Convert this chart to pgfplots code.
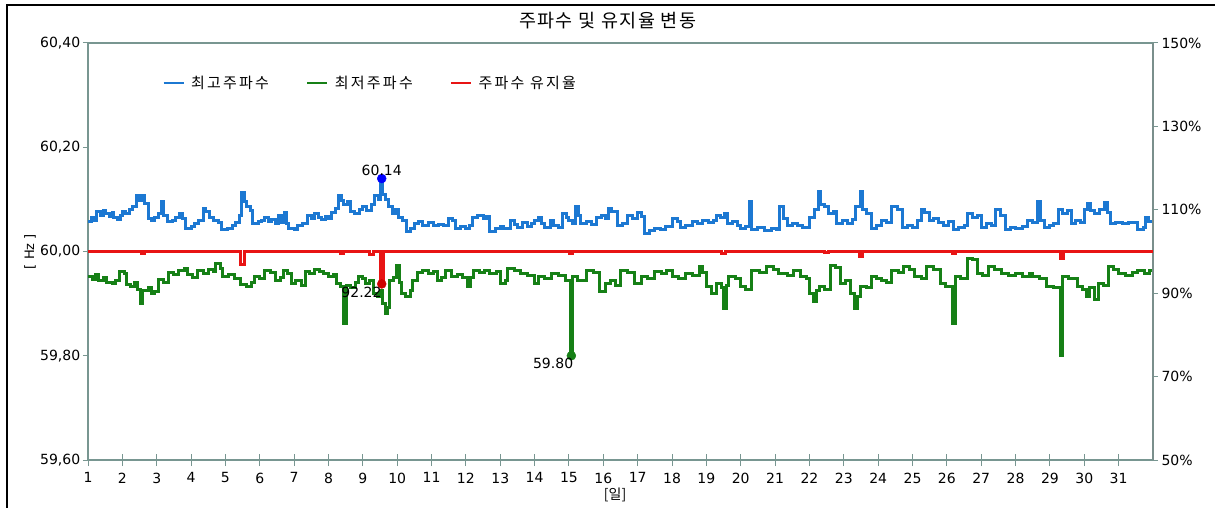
\documentclass[border=0pt]{standalone}
\usepackage{fontspec}
\usepackage{pgfplots}
\pgfplotsset{compat=1.18}
\setmainfont{DejaVu Sans}
\newfontfamily\krtitle[LetterSpace=8]{Noto Sans CJK KR}
\newfontfamily\krleg[LetterSpace=15]{Noto Sans CJK KR}
\newfontfamily\krlab{Noto Sans CJK KR}

\definecolor{hiblue}{RGB}{28,120,210}
\definecolor{logreen}{RGB}{22,128,22}
\definecolor{redline}{RGB}{232,20,20}
\definecolor{axiscol}{RGB}{120,150,145}

\pgfplotsset{
  /pgf/number format/assume math mode=true,
  every tick label/.append style={font=\fontsize{14bp}{16bp}\selectfont, text=black},
}

\begin{document}
\begin{tikzpicture}
\begin{axis}[
    scale only axis,
    width=1065bp, height=417bp,
    xmin=1, xmax=32,
    ymin=59.6, ymax=60.4,
    xtick={1,2,...,31},
    ytick={59.6,59.8,60.0,60.2,60.4},
    tick pos=left,
    xtick align=center,
    ytick align=outside,
    xtick style={/pgfplots/major tick length=12bp},
    ytick style={/pgfplots/major tick length=5bp},
    tick style={draw=axiscol, line width=1bp},
    axis line style={draw=axiscol, line width=1.3bp},
    yticklabel style={/pgf/number format/.cd, fixed, fixed zerofill, precision=2, use comma},
    xticklabel style={yshift=-7bp},
    title={\krtitle 주파수 및 유지율 변동},
    title style={at={(axis description cs:0.488,1.055)}, anchor=center, yshift=-6bp, font=\fontsize{18.5bp}{20bp}\selectfont},
    xlabel={\krlab [일]},
    xlabel style={at={(axis description cs:0.495,-0.084)}, anchor=center, font=\fontsize{14bp}{16bp}\selectfont},
    ylabel={[ Hz ]},
    ylabel style={at={(axis description cs:-0.0545,0.5)}, anchor=center, font=\fontsize{13bp}{15bp}\selectfont},
    legend columns=3,
    legend style={at={(axis description cs:0.0695,0.904)}, anchor=west,
      draw=none, fill=none, inner sep=0pt,
      font=\fontsize{15bp}{17bp}\krleg,
      nodes={inner sep=0pt},
      /tikz/every odd column/.append style={column sep=6bp},
      /tikz/every even column/.append style={column sep=37bp}},
    legend image code/.code={\draw[#1, line width=2.8bp] (0bp,0bp) -- (20bp,0bp);},
]
% max frequency
\addplot[const plot, hiblue, line width=3bp, mark=none] coordinates {
(1.00,60.057) (1.10,60.065) (1.18,60.060) (1.25,60.076) (1.35,60.070) (1.45,60.078)
(1.50,60.072) (1.62,60.068) (1.70,60.074) (1.75,60.066) (1.85,60.062) (1.95,60.070)
(2.00,60.076) (2.10,60.072) (2.20,60.080) (2.30,60.086) (2.40,60.108) (2.50,60.098)
(2.58,60.108) (2.65,60.092) (2.75,60.063) (2.85,60.060) (2.95,60.066) (3.05,60.072)
(3.15,60.095) (3.20,60.070) (3.30,60.057) (3.45,60.060) (3.55,60.066) (3.65,60.072)
(3.75,60.064) (3.85,60.045) (4.00,60.048) (4.10,60.054) (4.22,60.060) (4.35,60.083)
(4.42,60.076) (4.55,60.065) (4.65,60.060) (4.80,60.055) (4.90,60.042) (5.05,60.045)
(5.20,60.050) (5.30,60.056) (5.42,60.070) (5.48,60.114) (5.55,60.095) (5.62,60.086)
(5.72,60.078) (5.80,60.054) (5.95,60.058) (6.05,60.060) (6.15,60.066) (6.25,60.058)
(6.35,60.062) (6.45,60.054) (6.55,60.070) (6.62,60.056) (6.72,60.075) (6.78,60.054)
(6.85,60.045) (7.00,60.042) (7.10,60.050) (7.25,60.054) (7.40,60.070) (7.50,60.064)
(7.60,60.072) (7.70,60.066) (7.80,60.062) (7.90,60.068) (8.00,60.064) (8.10,60.074)
(8.20,60.083) (8.30,60.108) (8.38,60.098) (8.45,60.090) (8.55,60.096) (8.65,60.076)
(8.75,60.072) (8.90,60.080) (9.00,60.086) (9.10,60.078) (9.25,60.090) (9.35,60.108)
(9.45,60.100) (9.52,60.140) (9.58,60.110) (9.65,60.100) (9.75,60.086) (9.85,60.073)
(9.95,60.080) (10.05,60.066) (10.15,60.060) (10.28,60.038) (10.40,60.045) (10.50,60.054)
(10.62,60.058) (10.75,60.050) (10.90,60.056) (11.05,60.050) (11.20,60.052) (11.35,60.050)
(11.50,60.063) (11.62,60.060) (11.70,60.045) (11.85,60.048) (12.00,60.044) (12.10,60.050)
(12.20,60.066) (12.35,60.070) (12.50,60.064) (12.60,60.068) (12.70,60.038) (12.85,60.044)
(13.00,60.048) (13.10,60.044) (13.30,60.060) (13.40,60.052) (13.50,60.047) (13.65,60.056)
(13.80,60.048) (13.90,60.054) (14.00,60.060) (14.10,60.066) (14.20,60.054) (14.30,60.047)
(14.45,60.060) (14.55,60.050) (14.70,60.046) (14.80,60.073) (14.92,60.066) (15.00,60.060)
(15.10,60.054) (15.20,60.086) (15.28,60.070) (15.35,60.054) (15.50,60.058) (15.65,60.052)
(15.80,60.066) (15.95,60.070) (16.05,60.064) (16.15,60.083) (16.25,60.076) (16.40,60.050)
(16.55,60.054) (16.70,60.070) (16.85,60.064) (17.00,60.074) (17.10,60.068) (17.20,60.035)
(17.35,60.040) (17.50,60.044) (17.65,60.042) (17.80,60.048) (18.00,60.063) (18.15,60.058)
(18.25,60.047) (18.40,60.050) (18.60,60.057) (18.75,60.054) (18.90,60.060) (19.05,60.056)
(19.20,60.060) (19.30,60.070) (19.40,60.066) (19.52,60.072) (19.60,60.054) (19.75,60.058)
(19.90,60.050) (20.00,60.045) (20.15,60.048) (20.25,60.096) (20.30,60.042) (20.50,60.046)
(20.70,60.040) (20.90,60.044) (21.05,60.042) (21.12,60.086) (21.25,60.064) (21.35,60.050)
(21.50,60.054) (21.65,60.050) (21.80,60.047) (22.00,60.066) (22.15,60.080) (22.25,60.115)
(22.32,60.090) (22.45,60.086) (22.55,60.073) (22.70,60.076) (22.80,60.054) (22.95,60.060)
(23.10,60.054) (23.25,60.062) (23.35,60.086) (23.48,60.115) (23.55,60.080) (23.65,60.073)
(23.80,60.045) (23.95,60.050) (24.10,60.060) (24.25,60.056) (24.40,60.086) (24.55,60.080)
(24.70,60.047) (24.85,60.050) (25.00,60.046) (25.15,60.060) (25.25,60.080) (25.35,60.074)
(25.50,60.060) (25.62,60.064) (25.75,60.056) (25.90,60.050) (26.05,60.058) (26.20,60.042)
(26.35,60.046) (26.50,60.050) (26.60,60.073) (26.75,60.066) (26.90,60.070) (27.00,60.047)
(27.15,60.054) (27.30,60.050) (27.42,60.080) (27.55,60.070) (27.70,60.042) (27.85,60.046)
(28.00,60.044) (28.20,60.048) (28.35,60.060) (28.50,60.056) (28.65,60.096) (28.72,60.060)
(28.85,60.047) (29.00,60.050) (29.10,60.054) (29.25,60.080) (29.38,60.072) (29.50,60.078)
(29.62,60.054) (29.75,60.060) (29.90,60.056) (30.00,60.080) (30.08,60.092) (30.18,60.078)
(30.30,60.072) (30.45,60.080) (30.58,60.094) (30.68,60.074) (30.75,60.054) (30.90,60.056)
(31.10,60.054) (31.30,60.056) (31.55,60.042) (31.72,60.046) (31.78,60.066) (31.88,60.058)
(32.00,60.060)
};
\addlegendentry{최고주파수}
% min frequency
\addplot[const plot, logreen, line width=3bp, mark=none] coordinates {
(1.00,59.952) (1.12,59.946) (1.22,59.955) (1.30,59.945) (1.45,59.950) (1.55,59.940)
(1.70,59.938) (1.80,59.944) (1.92,59.962) (2.05,59.958) (2.12,59.937) (2.25,59.932)
(2.35,59.940) (2.45,59.928) (2.52,59.900) (2.60,59.926) (2.75,59.930) (2.85,59.920)
(2.95,59.924) (3.05,59.946) (3.20,59.940) (3.35,59.960) (3.50,59.956) (3.62,59.964)
(3.80,59.968) (3.90,59.955) (4.05,59.950) (4.20,59.964) (4.35,59.958) (4.50,59.966)
(4.65,59.962) (4.72,59.977) (4.85,59.968) (4.92,59.952) (5.10,59.955) (5.25,59.948)
(5.45,59.937) (5.60,59.932) (5.75,59.940) (5.85,59.952) (6.00,59.948) (6.15,59.964)
(6.30,59.960) (6.45,59.945) (6.60,59.950) (6.70,59.964) (6.82,59.958) (6.92,59.939)
(7.05,59.944) (7.20,59.935) (7.32,59.962) (7.45,59.958) (7.60,59.966) (7.75,59.962)
(7.85,59.958) (8.00,59.952) (8.15,59.956) (8.22,59.939) (8.35,59.932) (8.45,59.862)
(8.52,59.934) (8.65,59.930) (8.80,59.940) (8.88,59.952) (9.00,59.948) (9.08,59.939)
(9.20,59.944) (9.30,59.920) (9.42,59.914) (9.52,59.926) (9.58,59.900) (9.65,59.882)
(9.72,59.892) (9.78,59.945) (9.90,59.950) (9.98,59.973) (10.08,59.940) (10.12,59.920)
(10.25,59.914) (10.38,59.926) (10.45,59.945) (10.58,59.960) (10.75,59.964) (10.90,59.958)
(11.05,59.962) (11.18,59.945) (11.30,59.950) (11.42,59.964) (11.58,59.952) (11.75,59.956)
(11.90,59.950) (12.05,59.933) (12.12,59.950) (12.22,59.964) (12.40,59.960) (12.55,59.964)
(12.70,59.958) (12.90,59.962) (13.02,59.939) (13.15,59.944) (13.22,59.968) (13.40,59.964)
(13.60,59.958) (13.80,59.954) (14.00,59.939) (14.10,59.952) (14.30,59.948) (14.50,59.958)
(14.70,59.954) (14.90,59.945) (15.05,59.800) (15.10,59.952) (15.25,59.945) (15.50,59.964)
(15.70,59.960) (15.90,59.924) (16.05,59.939) (16.20,59.944) (16.35,59.935) (16.50,59.964)
(16.70,59.960) (16.90,59.939) (17.10,59.952) (17.30,59.948) (17.50,59.962) (17.70,59.958)
(17.85,59.964) (18.00,59.952) (18.20,59.948) (18.40,59.958) (18.60,59.954) (18.80,59.971)
(18.90,59.960) (19.00,59.933) (19.15,59.920) (19.30,59.939) (19.45,59.930) (19.50,59.890)
(19.58,59.935) (19.65,59.952) (19.85,59.948) (20.00,59.933) (20.15,59.928) (20.30,59.964)
(20.55,59.960) (20.75,59.971) (20.95,59.966) (21.10,59.958) (21.35,59.954) (21.55,59.964)
(21.75,59.952) (21.90,59.948) (22.00,59.920) (22.12,59.905) (22.20,59.925) (22.30,59.933)
(22.45,59.928) (22.60,59.974) (22.75,59.970) (22.90,59.939) (23.05,59.944) (23.20,59.920)
(23.30,59.890) (23.40,59.914) (23.50,59.933) (23.65,59.930) (23.80,59.952) (23.95,59.948)
(24.10,59.945) (24.25,59.940) (24.40,59.964) (24.60,59.960) (24.75,59.971) (24.90,59.966)
(25.05,59.952) (25.25,59.948) (25.40,59.971) (25.60,59.966) (25.80,59.939) (25.95,59.933)
(26.15,59.862) (26.25,59.952) (26.40,59.948) (26.60,59.987) (26.75,59.984) (26.90,59.958)
(27.05,59.954) (27.20,59.971) (27.40,59.966) (27.60,59.958) (27.80,59.954) (28.00,59.958)
(28.20,59.952) (28.40,59.958) (28.50,59.952) (28.70,59.948) (28.90,59.933) (29.10,59.930)
(29.30,59.800) (29.38,59.952) (29.55,59.948) (29.80,59.933) (29.95,59.928) (30.05,59.914)
(30.15,59.930) (30.30,59.908) (30.40,59.939) (30.55,59.935) (30.70,59.971) (30.85,59.966)
(31.00,59.958) (31.20,59.954) (31.40,59.960) (31.55,59.964) (31.75,59.958) (31.90,59.964)
(32.00,59.964)
};
\addlegendentry{최저주파수}
\addlegendimage{redline, line width=3bp}
\addlegendentry{주파수 유지율}
% extreme values
\addplot[only marks, mark=*, mark size=4.5bp, color=blue, forget plot,
  nodes near coords={60.14},
  every node near coord/.append style={anchor=south, yshift=-1bp, text=black, font=\fontsize{14bp}{16bp}\selectfont}]
  coordinates {(9.55,60.14)};
\addplot[only marks, mark=*, mark size=4.5bp, color=logreen, forget plot,
  nodes near coords={59.80},
  every node near coord/.append style={anchor=north east, inner sep=0pt, yshift=-2bp, xshift=2bp, text=black, font=\fontsize{14bp}{16bp}\selectfont}]
  coordinates {(15.07,59.80)};
\end{axis}
\begin{axis}[
    scale only axis,
    width=1065bp, height=417bp,
    xmin=1, xmax=32,
    ymin=50, ymax=150,
    axis x line=none,
    axis y line*=right,
    ytick={50,70,...,150},
    yticklabel={\pgfmathprintnumber[fixed,precision=0]{\tick}\%},
    ytick align=outside,
    major tick length=5bp,
    tick style={draw=axiscol, line width=1bp},
    axis line style={draw=axiscol!70!gray, line width=1.3bp},
]
% frequency keeping rate
\addplot[const plot, redline, line width=3bp, mark=none] coordinates {
(1.00,100) (2.55,99.6) (2.65,100) (5.45,96.8) (5.55,100) (8.35,99.6) (8.45,100)
(9.20,99.4) (9.30,100) (9.50,92.22) (9.60,100) (15.02,99.5) (15.10,100)
(19.45,99.5) (19.55,100) (22.45,99.7) (22.55,100) (23.45,98.7) (23.55,100)
(26.15,99.5) (26.25,100) (29.30,98.4) (29.40,100) (32.00,100)
};
\addplot[only marks, mark=*, mark size=4.5bp, color=red!80!black,
  nodes near coords={92.22},
  every node near coord/.append style={anchor=north east, inner sep=0pt, yshift=-3bp, xshift=0bp, text=black, font=\fontsize{14bp}{16bp}\selectfont}]
  coordinates {(9.55,92.22)};
\end{axis}
\draw[line width=1.6bp, black] (-81bp,-100bp) -- (-81bp,455bp) -- (1200bp,455bp);
\pgfresetboundingbox
\useasboundingbox (-88bp,-48bp) rectangle (1127bp,460bp);
\end{tikzpicture}
\end{document}
